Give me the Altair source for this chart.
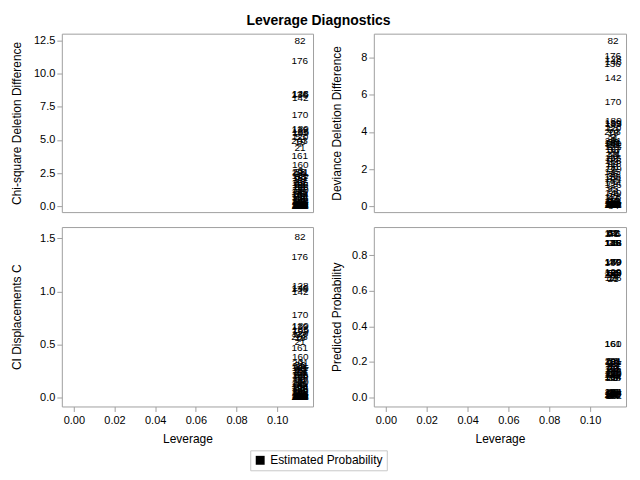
import altair as alt
import pandas as pd

obs = [82, 176, 128, 146, 136, 142, 170, 189, 139, 185, 199, 120, 53, 203, 19, 7, 21, 161, 160,
       1, 3, 5, 9, 12, 14, 17, 23, 25, 30, 33, 36, 40, 44, 47, 51, 56, 58, 61, 64, 68, 71, 75, 79,
       84, 88, 91, 95, 98, 101, 104, 108, 111, 115, 118, 123, 126, 131, 134, 145, 149, 152, 155,
       158, 164, 167, 173, 179, 182, 186, 191, 194, 197, 201, 205]

leverage = [0.1112, 0.1111, 0.1113, 0.1114, 0.1110, 0.1113, 0.1112, 0.1114, 0.1111, 0.1113,
            0.1115, 0.1112, 0.1114, 0.1110, 0.1113, 0.1115, 0.1112, 0.1111, 0.1113,
            0.1112, 0.1114, 0.1110, 0.1113, 0.1115, 0.1111, 0.1114, 0.1112, 0.1113, 0.1109,
            0.1115, 0.1111, 0.1113, 0.1114, 0.1112, 0.1110, 0.1113, 0.1115, 0.1111, 0.1114,
            0.1112, 0.1113, 0.1110, 0.1114, 0.1115, 0.1112, 0.1113, 0.1111, 0.1114, 0.1112,
            0.1113, 0.1110, 0.1115, 0.1112, 0.1114, 0.1111, 0.1113, 0.1112, 0.1115, 0.1110,
            0.1113, 0.1114, 0.1112, 0.1111, 0.1113, 0.1115, 0.1112, 0.1114, 0.1110, 0.1113,
            0.1112, 0.1111, 0.1114, 0.1113, 0.1112]

chisq_diff = [12.45, 10.95, 8.50, 8.45, 8.40, 8.20, 6.90, 5.80, 5.75, 5.60, 5.55, 5.25, 5.20,
              4.95, 4.85, 4.70, 4.40, 3.80, 3.10,
              0.03, 2.65, 0.05, 1.20, 0.12, 2.40, 0.04, 1.85, 0.35, 0.02, 2.20, 0.95, 0.06,
              1.55, 0.28, 0.03, 2.55, 1.05, 0.08, 0.45, 1.70, 0.04, 0.75, 2.05, 0.02, 1.35,
              0.15, 0.55, 0.05, 2.30, 0.85, 0.03, 1.95, 0.22, 1.45, 0.06, 0.65, 2.50, 0.04,
              1.10, 0.40, 0.02, 1.75, 0.90, 0.07, 2.15, 0.30, 1.25, 0.03, 1.60, 0.18, 0.70,
              0.05, 2.60, 0.10]

deviance_diff = [8.90, 8.10, 7.95, 7.75, 7.65, 6.90, 5.60, 4.60, 4.50, 4.45, 4.40, 4.20, 4.10,
                 4.00, 3.95, 3.70, 3.60, 3.40, 3.35,
                 0.05, 3.55, 0.08, 1.95, 0.20, 3.30, 0.06, 2.70, 0.55, 0.04, 3.05, 1.60, 0.10,
                 2.35, 0.45, 0.05, 3.45, 1.75, 0.14, 0.80, 2.55, 0.07, 1.30, 2.90, 0.03, 2.10,
                 0.25, 0.95, 0.09, 3.20, 1.45, 0.05, 2.80, 0.38, 2.25, 0.11, 1.15, 3.40, 0.06,
                 1.85, 0.70, 0.04, 2.60, 1.55, 0.12, 3.00, 0.50, 2.00, 0.05, 2.45, 0.30, 1.25,
                 0.08, 3.50, 0.18]

ci_displacement = [1.51, 1.32, 1.05, 1.03, 1.02, 0.99, 0.78, 0.67, 0.66, 0.64, 0.63, 0.60, 0.59,
                   0.57, 0.56, 0.55, 0.52, 0.47, 0.38,
                   0.004, 0.33, 0.006, 0.15, 0.015, 0.29, 0.005, 0.23, 0.043, 0.002, 0.27, 0.12,
                   0.007, 0.19, 0.034, 0.004, 0.31, 0.13, 0.010, 0.055, 0.21, 0.005, 0.092, 0.25,
                   0.002, 0.16, 0.018, 0.067, 0.006, 0.28, 0.10, 0.004, 0.24, 0.027, 0.18, 0.007,
                   0.079, 0.30, 0.005, 0.13, 0.049, 0.002, 0.21, 0.11, 0.009, 0.26, 0.037, 0.15,
                   0.004, 0.20, 0.022, 0.085, 0.006, 0.32, 0.012]

pred_prob = [0.925, 0.918, 0.870, 0.870, 0.865, 0.870, 0.760, 0.760, 0.755, 0.700, 0.700, 0.705,
             0.700, 0.690, 0.670, 0.670, 0.665, 0.300, 0.300,
             0.020, 0.200, 0.025, 0.130, 0.925, 0.200, 0.015, 0.160, 0.870, 0.010, 0.195, 0.110,
             0.030, 0.155, 0.760, 0.020, 0.205, 0.125, 0.925, 0.700, 0.160, 0.025, 0.110, 0.165,
             0.010, 0.135, 0.920, 0.690, 0.030, 0.200, 0.115, 0.015, 0.170, 0.870, 0.140, 0.020,
             0.670, 0.200, 0.025, 0.125, 0.760, 0.010, 0.160, 0.110, 0.030, 0.190, 0.700, 0.130,
             0.015, 0.150, 0.925, 0.115, 0.020, 0.205, 0.030]

legend_label = "Estimated Probability"

df = pd.DataFrame({
    "Obs": [str(o) for o in obs],
    "Leverage": leverage,
    "ChiSq": chisq_diff,
    "Dev": deviance_diff,
    "C": ci_displacement,
    "Pred": pred_prob,
})
df["Group"] = legend_label

FONT = "Liberation Sans"
GRAY = "#a0a0a0"
XDOM = [-0.0059, 0.1176]
XTICKS = [0.0, 0.02, 0.04, 0.06, 0.08, 0.10]

PAD_L = 2
PAD_T = 5


def panel(field, title, dom, ticks, fmt, w, h, show_x, title_x):
    if show_x:
        x_axis = alt.Axis(values=XTICKS, format=".2f", title="Leverage", domain=False,
                          tickSize=5, tickColor=GRAY, labelPadding=3, titlePadding=8,
                          labelFontSize=11, titleFontSize=12, labelFont=FONT, titleFont=FONT,
                          labelColor="black", titleColor="black", titleFontWeight="normal",
                          grid=False)
    else:
        x_axis = None
    y_axis = alt.Axis(values=ticks, format=fmt, title=title, domain=False, tickSize=5,
                      tickColor=GRAY, labelPadding=2, labelFontSize=11, titleFontSize=12,
                      labelFont=FONT, titleFont=FONT, labelColor="black", titleColor="black",
                      titleFontWeight="normal", titleX=title_x, titleY=h / 2,
                      titleBaseline="middle", titleAlign="center", grid=False)
    return alt.Chart(df).mark_text(fontSize=10, font=FONT).encode(
        x=alt.X("Leverage:Q", scale=alt.Scale(domain=XDOM, nice=False, zero=False), axis=x_axis),
        y=alt.Y(f"{field}:Q", scale=alt.Scale(domain=dom, nice=False, zero=False), axis=y_axis),
        text="Obs:N",
        color=alt.Color("Group:N", scale=alt.Scale(range=["black"]),
                        legend=alt.Legend(title=None, orient="none", legendX=189, legendY=418,
                                          symbolType="square", symbolSize=80,
                                          symbolStrokeWidth=0, labelFontSize=12,
                                          labelFont=FONT, labelColor="black",
                                          strokeColor="#c8c8c8", fillColor="white",
                                          padding=4)),
    ).properties(width=w, height=h)


p1 = panel("ChiSq", "Chi-square Deletion Difference", [-0.45, 13.03],
           [0, 2.5, 5, 7.5, 10, 12.5], ".1f", 252, 179, False, -45)
p2 = panel("Dev", "Deviance Deletion Difference", [-0.32, 9.29],
           [0, 2, 4, 6, 8], "d", 253, 179, False, -37)
p3 = panel("C", "CI Displacements C", [-0.085, 1.606],
           [0, 0.5, 1.0, 1.5], ".1f", 252, 180, True, -45)
p4 = panel("Pred", "Predicted Probability", [-0.05, 0.957],
           [0, 0.2, 0.4, 0.6, 0.8], ".1f", 253, 180, True, -37)

chart = alt.concat(p1, p2, p3, p4, columns=2, spacing={"row": 13, "column": 16}).properties(
    title=alt.TitleParams("Leverage Diagnostics", fontSize=14, font=FONT, fontWeight="bold",
                          anchor="middle", offset=5, color="black"),
    padding={"left": PAD_L, "top": PAD_T, "right": 5, "bottom": 5},
    background="white",
).configure_view(stroke=GRAY, strokeWidth=1)

chart.save("out.html", embed_options={"renderer": "svg", "actions": False})
